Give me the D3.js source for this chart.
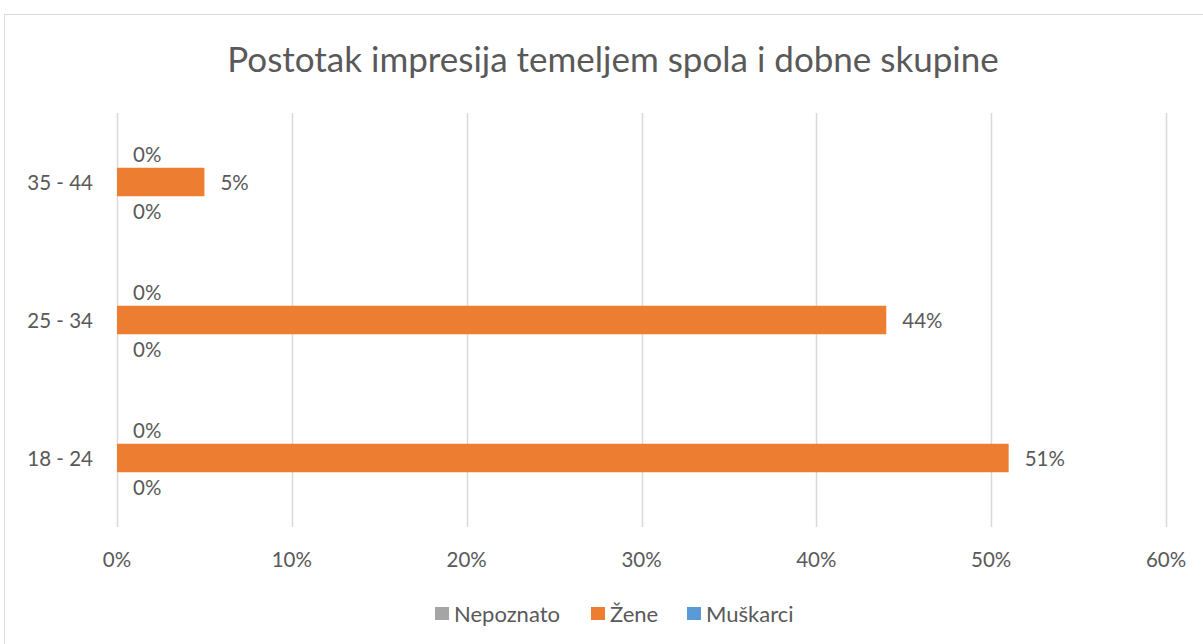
<!DOCTYPE html>
<html><head><meta charset="utf-8">
<script src="https://cdn.jsdelivr.net/npm/d3@7"></script>
<style>body{margin:0;background:#fff;} text{font-family:Lato,"Open Sans",sans-serif;fill:#595959;}</style>
</head><body>
<svg id="c" width="1203" height="644"></svg>
<script>
const title = "Postotak impresija temeljem spola i dobne skupine";
const categories = ["18 - 24", "25 - 34", "35 - 44"];
const seriesNames = ["Nepoznato", "Žene", "Muškarci"];
const nepoznato = [0, 0, 0];
const zene = [51, 44, 5];
const muskarci = [0, 0, 0];
const xTicks = [0, 10, 20, 30, 40, 50, 60];
const colors = ["#A5A5A5", "#ED7D31", "#5B9BD5"];

const seriesValues = [nepoznato, zene, muskarci];
const svg = d3.select("#c");
const plot = {left: 117, right: 1166, top: 113, bottom: 527};
const fs = "20.5px";

// chart border
svg.append("rect").attr("x", 4.5).attr("y", 14.5).attr("width", 1240).attr("height", 660)
  .attr("fill", "none").attr("stroke", "#d9d9d9").attr("stroke-width", 1);

svg.append("text").attr("x", 613).attr("y", 58).attr("text-anchor", "middle")
  .attr("dominant-baseline", "central").style("font-size", "35px").text(title);

const x = d3.scaleLinear().domain([0, 60]).range([plot.left, plot.right]);
const y = d3.scaleBand().domain(categories.slice().reverse()).range([plot.top, plot.bottom]);
const bh = 28.5;
const inner = d3.scaleBand().domain(seriesNames.slice().reverse())
  .range([y.bandwidth()/2 - 1.5*bh, y.bandwidth()/2 + 1.5*bh]);

// gridlines
svg.append("g").selectAll("line").data(xTicks).join("line")
  .attr("x1", d => Math.round(x(d)) + 0.5).attr("x2", d => Math.round(x(d)) + 0.5)
  .attr("y1", plot.top).attr("y2", plot.bottom)
  .attr("stroke", "#d9d9d9").attr("stroke-width", 1.5);

// x axis labels
svg.append("g").selectAll("text").data(xTicks).join("text")
  .attr("x", d => x(d)).attr("y", 559).attr("text-anchor", "middle")
  .attr("dominant-baseline", "central").style("font-size", fs).text(d => d + "%");

// category labels
svg.append("g").selectAll("text").data(categories).join("text")
  .attr("x", 93).attr("y", d => y(d) + y.bandwidth()/2).attr("text-anchor", "end")
  .attr("dominant-baseline", "central").style("font-size", fs).text(d => d);

// bars
seriesNames.forEach((s, si) => {
  const g = svg.append("g");
  const data = categories.map((c, i) => ({c, v: seriesValues[si][i]}));
  g.selectAll("rect").data(data).join("rect")
    .attr("x", x(0)).attr("width", d => x(d.v) - x(0))
    .attr("y", d => y(d.c) + inner(s)).attr("height", inner.bandwidth())
    .attr("fill", colors[si]);
  g.selectAll("text").data(data).join("text")
    .attr("x", d => x(d.v) + 16).attr("y", d => y(d.c) + inner(s) + inner.bandwidth()/2)
    .attr("dominant-baseline", "central").style("font-size", fs).text(d => d.v + "%");
});

// legend
const legX = [435, 591, 687];
const lg = svg.append("g");
seriesNames.forEach((s, i) => {
  lg.append("rect").attr("x", legX[i]).attr("y", 607).attr("width", 14).attr("height", 13).attr("fill", colors[i]);
  lg.append("text").attr("x", legX[i] + 19).attr("y", 613.5).attr("dominant-baseline", "central")
    .style("font-size", "22px").text(s);
});
</script>
</body></html>
